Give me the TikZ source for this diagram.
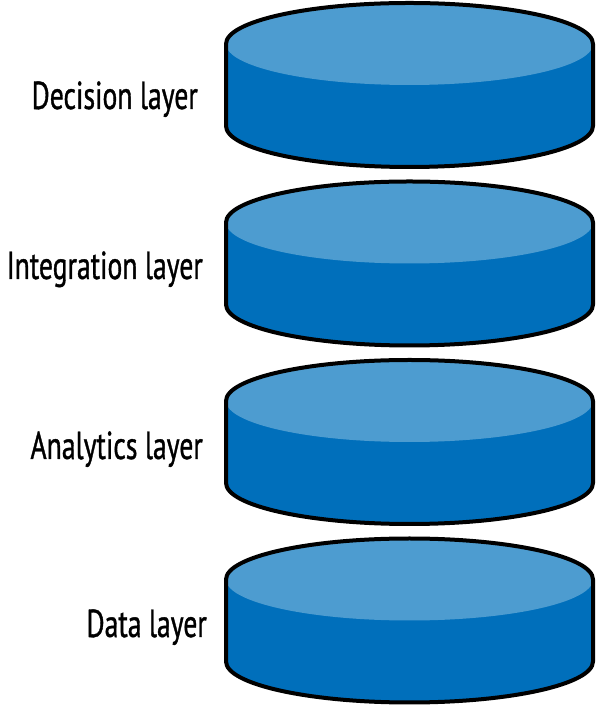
\documentclass[tikz,border=0pt]{standalone}
\usepackage{fontspec}
\setmainfont{PT Sans}[FakeStretch=0.71, FakeBold=0.9]
\usepackage{xcolor}
\usetikzlibrary{positioning}

\definecolor{disk-top}{RGB}{77,156,208}
\definecolor{disk-side}{RGB}{0,111,187}

\begin{document}
\begin{tikzpicture}
[
x=1pt, y=1pt,
disk-line/.style={draw=black, line width=4pt, line join=round},
text-a/.style={black, inner sep=0pt, font=\fontsize{39}{39}\selectfont}
]
\useasboundingbox (0,0) rectangle (595,706);
% disks, top centre at (409.5,\y)
\foreach \i/\y in {1/662, 2/483.5, 3/305, 4/126.5}
{
  \coordinate (disk-\i) at (409.5,\y);
  \fill [disk-side] ([xshift=-183.5pt]disk-\i) -- ++(0,-82)
        arc [start angle=180, end angle=360, x radius=183.5, y radius=41]
        -- ++(0,82)
        arc [start angle=0, end angle=180, x radius=183.5, y radius=41] -- cycle;
  \fill [disk-top] (disk-\i) ellipse [x radius=183.5, y radius=41];
  \draw [disk-line] ([xshift=-183.5pt]disk-\i) -- ++(0,-82)
        arc [start angle=180, end angle=360, x radius=183.5, y radius=41]
        -- ++(0,82)
        arc [start angle=0, end angle=180, x radius=183.5, y radius=41] -- cycle;
}
% labels
\node (label-1) [text-a, anchor=base east] at (198,597) {Decision layer};
\node (label-2) [text-a, anchor=base east] at (203,427) {Integration layer};
\node (label-3) [text-a, anchor=base east] at (203,247) {Analytics layer};
\node (label-4) [text-a, anchor=base east] at (207,69)  {Data layer};
\end{tikzpicture}
\end{document}
